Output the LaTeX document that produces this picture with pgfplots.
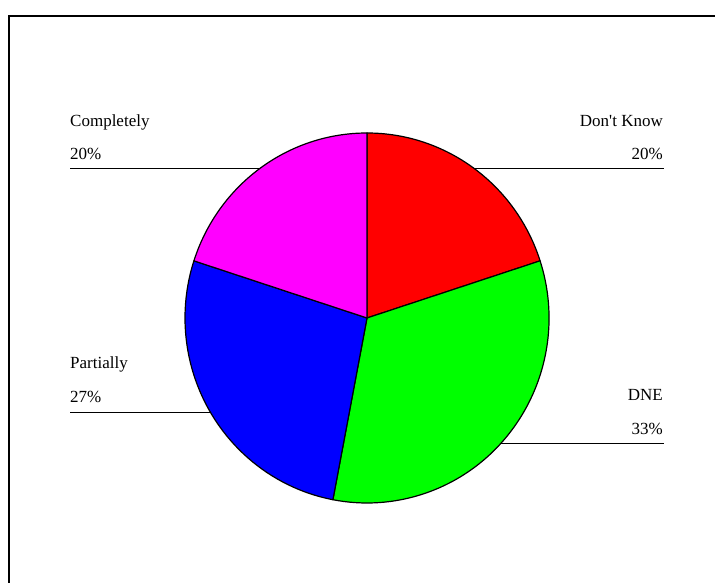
\documentclass[border=0pt]{standalone}
\usepackage{pgfplots}
\usepackage{pgfplotstable}
\pgfplotsset{compat=1.18}
\usepackage{fontspec}
\setmainfont{Liberation Serif}
\definecolor{pieRed}{RGB}{255,0,0}
\definecolor{pieGreen}{RGB}{0,255,0}
\definecolor{pieBlue}{RGB}{0,0,255}
\definecolor{pieMagenta}{RGB}{255,0,255}

\pgfplotstableread{
label value color
{DontKnow} 20 pieRed
{DNE} 33 pieGreen
{Partially} 27 pieBlue
{Completely} 20 pieMagenta
}\piedata

\begin{document}
\begin{tikzpicture}
\useasboundingbox (0,0) rectangle (715bp,583bp);
\begin{axis}[
  at={(0,0)}, anchor=origin,
  scale only axis, width=715bp, height=583bp,
  xmin=0, xmax=715, ymin=0, ymax=583,
  hide axis, clip=false,
]
% frame
\addplot[black, line width=2bp, line join=miter] coordinates {(9,0) (9,567) (715,567)};
% leader lines
\addplot[black, line width=1bp] coordinates {(70,414) (280,414)};
\addplot[black, line width=1bp] coordinates {(460,414) (664,414)};
\addplot[black, line width=1bp] coordinates {(70,170) (230,170)};
\addplot[black, line width=1bp] coordinates {(480,139) (664,139)};
% pie sectors from data
\pgfplotstablegetrowsof{\piedata}
\pgfmathtruncatemacro{\N}{\pgfplotsretval-1}
\gdef\startang{90}
\pgfplotsforeachungrouped \i in {0,...,\N}{%
  \pgfplotstablegetelem{\i}{value}\of{\piedata}\let\val\pgfplotsretval
  \pgfplotstablegetelem{\i}{color}\of{\piedata}\let\col\pgfplotsretval
  \pgfmathsetmacro{\endang}{\startang-3.6*\val}%
  \pgfmathsetmacro{\sx}{367+182*cos(\startang)}%
  \pgfmathsetmacro{\sy}{265+185*sin(\startang)}%
  \edef\temp{\noexpand\filldraw[fill=\col, draw=black, line width=1.2bp, line join=round]
    (axis cs:367,265) -- (axis cs:\sx,\sy)
    arc[start angle=\startang, end angle=\endang, x radius=182bp, y radius=185bp] -- cycle;}%
  \temp
  \global\let\startang\endang
}
% labels
\fontsize{17bp}{20bp}\selectfont
\node[anchor=base west, inner sep=0pt] at (axis cs:70,456) {Completely};
\node[anchor=base west, inner sep=0pt] at (axis cs:70,423) {20\%};
\node[anchor=base east, inner sep=0pt] at (axis cs:663,456) {Don\textquotesingle t Know};
\node[anchor=base east, inner sep=0pt] at (axis cs:663,423) {20\%};
\node[anchor=base west, inner sep=0pt] at (axis cs:70,214) {Partially};
\node[anchor=base west, inner sep=0pt] at (axis cs:70,180) {27\%};
\node[anchor=base east, inner sep=0pt] at (axis cs:663,182) {DNE};
\node[anchor=base east, inner sep=0pt] at (axis cs:663,148) {33\%};
\end{axis}
\end{tikzpicture}
\end{document}
